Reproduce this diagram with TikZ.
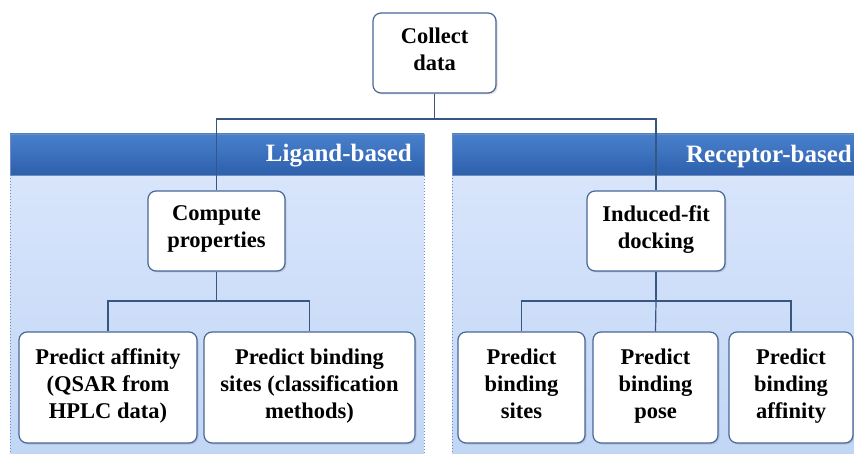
\documentclass[tikz,border=0pt]{standalone}
\usepackage{fontspec}
\setmainfont{Liberation Serif}
\usetikzlibrary{shadows}
\definecolor{hdrtop}{RGB}{72,128,204}
\definecolor{hdrbot}{RGB}{46,96,172}
\definecolor{paneltop}{RGB}{216,229,251}
\definecolor{panelbot}{RGB}{192,213,246}
\definecolor{boxline}{RGB}{72,102,150}
\definecolor{edgeline}{RGB}{56,86,130}
\definecolor{dotline}{RGB}{110,140,190}
\begin{document}
\begin{tikzpicture}[x=1pt, y=-1pt,
  stepbox/.style={draw=boxline, line width=1.2pt, fill=white, rounded corners=8pt,
    align=center, inner sep=2pt, font=\fontsize{22.5}{27}\selectfont\bfseries,
    execute at begin node=\strut, execute at end node=\strut,
    drop shadow={opacity=0.25, shadow xshift=1.5pt, shadow yshift=-1.5pt}},
  header/.style={top color=hdrtop, bottom color=hdrbot, draw=dotline, line width=0.6pt},
  panel/.style={top color=paneltop, bottom color=panelbot, draw=dotline, dotted, line width=1pt},
  hdrtext/.style={text=white, font=\fontsize{25}{30}\selectfont\bfseries, inner sep=0pt},
  link/.style={draw=edgeline, line width=1.2pt}]

  \useasboundingbox (0,0) rectangle (854,454);
  \clip (0,0) rectangle (854,454);

  % panels
  \path[panel] (10,175) rectangle (424,470);
  \path[header] (10,134) rectangle (424,175);
  \path[panel] (452,175) rectangle (870,470);
  \path[header] (452,134) rectangle (870,175);
  \node (lhdr) [hdrtext, anchor=east] at (412,156) {Ligand-based};
  \node (rhdr) [hdrtext, anchor=east] at (852,156) {Receptor-based};

  % boxes
  \node (collect) [stepbox, minimum width=123pt, minimum height=80pt] at (434.5,53) {Collect\\data};
  \node (compute) [stepbox, minimum width=137pt, minimum height=80pt] at (216.5,231) {Compute\\properties};
  \node (induced) [stepbox, minimum width=138pt, minimum height=80pt] at (656,231) {Induced-fit\\docking};

  \node (laff) [stepbox, minimum width=178pt, minimum height=111pt] at (108,387.5) {Predict affinity\\(QSAR from\\HPLC data)};
  \node (lsites) [stepbox, minimum width=211pt, minimum height=111pt] at (309.5,387.5) {Predict binding\\sites (classification\\methods)};
  \node (rsites) [stepbox, minimum width=127pt, minimum height=111pt] at (521.5,387.5) {Predict\\binding\\sites};
  \node (rpose) [stepbox, minimum width=125pt, minimum height=111pt] at (655.5,387.5) {Predict\\binding\\pose};
  \node (raff) [stepbox, minimum width=124pt, minimum height=111pt] at (791,387.5) {Predict\\binding\\affinity};

  \coordinate (split) at (434.5,119);
  \coordinate (lbar) at (216.5,301);
  \coordinate (rbar) at (656,301);

  \path[link] (collect.south) -- (split);
  \path[link] (split) -| (compute.north);
  \path[link] (split) -| (induced.north);
  \path[link] (compute.south) -- (lbar);
  \path[link] (lbar) -| (laff.north);
  \path[link] (lbar) -| (lsites.north);
  \path[link] (induced.south) -- (rbar);
  \path[link] (rbar) -| (rsites.north);
  \path[link] (rbar) -- (rpose.north);
  \path[link] (rbar) -| (raff.north);
\end{tikzpicture}
\end{document}
